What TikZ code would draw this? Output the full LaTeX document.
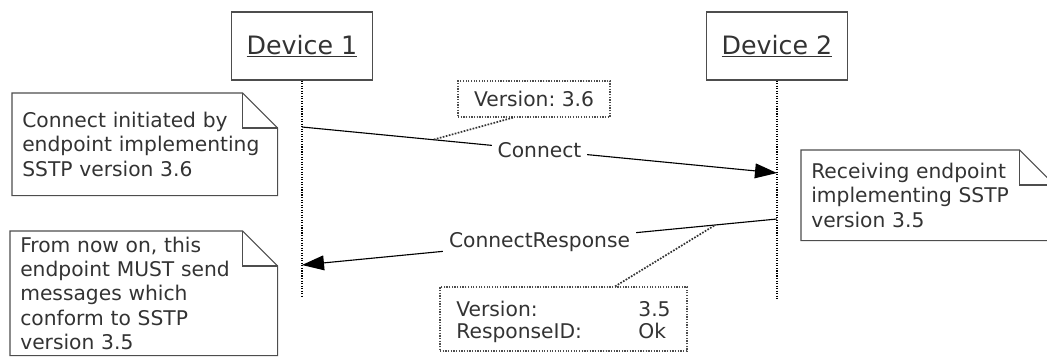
\documentclass[tikz,border=0pt]{standalone}
\usepackage{fontspec}
\setmainfont{DejaVu Sans}
\usetikzlibrary{arrows.meta}

\definecolor{inkgray}{HTML}{333333}
\definecolor{boxgray}{HTML}{4d4d4d}

% note with a folded corner, drawn round a named node
\newcommand{\dogear}[1]{%
  \draw[noteline] (#1.north west) -- ([xshift=-0.875cm]#1.north east)
    -- ([yshift=-0.875cm]#1.north east) -- (#1.south east)
    -- (#1.south west) -- cycle;
  \draw[noteline] ([xshift=-0.875cm]#1.north east) |- ([yshift=-0.875cm]#1.north east);
}

\begin{document}
\begin{tikzpicture}[x=0.025cm, y=-0.025cm,
    every node/.style={text=inkgray},
    device/.style={draw=boxgray, line width=0.8pt, minimum width=3.525cm,
      minimum height=1.7cm, font=\fontsize{18}{21}\selectfont},
    lifeline/.style={densely dotted, line width=0.8pt},
    msg/.style={line width=0.8pt, -{Triangle[length=0.55cm,width=0.37cm]}},
    msglabel/.style={fill=white, inner xsep=4pt, inner ysep=2pt,
      font=\fontsize{14.4}{17}\selectfont},
    note/.style={anchor=north west, align=left, inner xsep=0.25cm, inner ysep=0pt,
      font=\fontsize{14.4}{17.2}\selectfont},
    noteline/.style={draw=boxgray, line width=0.8pt},
    attr/.style={draw=boxgray, densely dotted, line width=0.9pt,
      font=\fontsize{14.4}{17}\selectfont},
    attrlink/.style={draw=black!80, densely dotted, line width=1.2pt}]
  \useasboundingbox (0,0) rectangle (1047,356);

  % participants
  \node[device] (dev1) at (302,46) {\underline{Device 1}};
  \node[device] (dev2) at (777,46) {\underline{Device 2}};
  \coordinate (dev1-end) at (302,298);
  \coordinate (dev2-end) at (777,300);
  \draw[lifeline] (dev1) -- (dev1-end);
  \draw[lifeline] (dev2) -- (dev2-end);

  % messages
  \coordinate (conn-from) at (302,127);
  \coordinate (conn-to)   at (777,173);
  \coordinate (resp-from) at (777,219);
  \coordinate (resp-to)   at (302,265);
  \draw[msg] (conn-from) -- node[pos=0.276, coordinate] (conn-tap) {}
    node[msglabel] (conn-lbl) {Connect} (conn-to);
  \draw[msg] (resp-from) -- node[pos=0.13, coordinate] (resp-tap) {}
    node[msglabel] (resp-lbl) {ConnectResponse} (resp-to);

  % message attributes
  \node[attr, minimum width=3.8cm, minimum height=0.9cm] (ver) at (534,99) {Version:\ 3.6};
  \draw[attrlink] ([xshift=-0.525cm]ver.south) -- (conn-tap);
  \node[attr, minimum width=6.175cm, minimum height=1.6cm] (resp) at (563.5,319) {};
  \node[font=\fontsize{14.4}{17}\selectfont] (resp-txt) at (563.5,323)
    {\begin{tabular}{@{}p{4.55cm}@{}l@{}}
      Version: & 3.5\\[-1.5pt]
      ResponseID: & Ok
    \end{tabular}};
  \draw[attrlink] ([xshift=1.29cm]resp.north) -- (resp-tap);

  % notes
  \node[note, text width=6.125cm, minimum height=2.55cm] (note1) at (12,93)
    {Connect initiated by\\ endpoint implementing\\ SSTP version 3.6};
  \dogear{note1}
  \node[note, text width=5.825cm, minimum height=2.25cm] (note2) at (801,150)
    {Receiving endpoint\\ implementing SSTP\\ version 3.5};
  \dogear{note2}
  \node[note, text width=6.175cm, minimum height=3.1cm] (note3) at (10,231)
    {From now on, this\\ endpoint MUST send\\ messages which\\ conform to SSTP\\ version 3.5};
  \dogear{note3}
\end{tikzpicture}
\end{document}
